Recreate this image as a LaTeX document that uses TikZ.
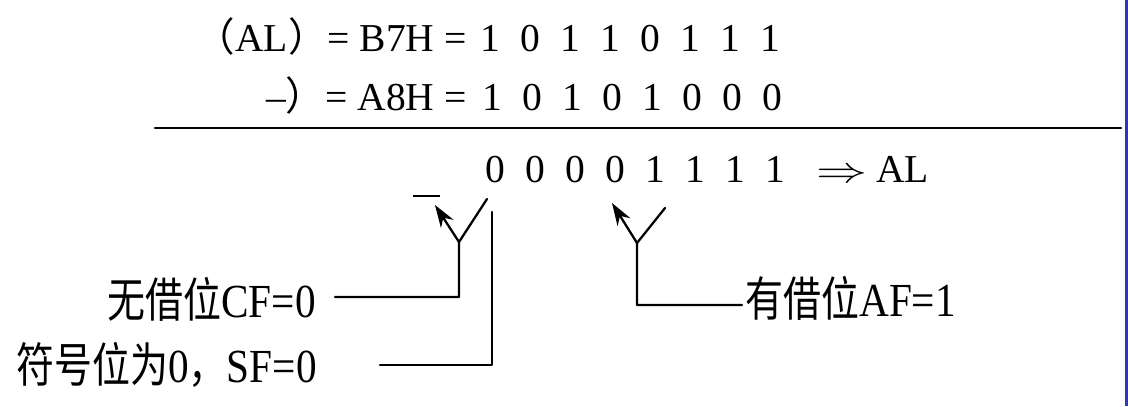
\documentclass[tikz,border=0pt]{standalone}
\usepackage{fontspec}
\setmainfont{Liberation Serif}
\newfontfamily\cjk{Noto Sans CJK SC}
\newfontfamily\cjknarrow[FakeStretch=0.8]{Noto Sans CJK SC}
\newfontfamily\lblfont[FakeStretch=0.87]{Liberation Serif}
\usetikzlibrary{arrows.meta}
\definecolor{barblue}{RGB}{51,51,187}
\newcommand{\bt}[1]{\makebox[0.8cm]{#1}}
\newcommand{\zh}[1]{{\cjknarrow #1}}

\begin{document}
\begin{tikzpicture}[line cap=round,line join=round,>={Stealth[length=0.45cm,width=0.3cm]},x=0.02cm,y=-0.02cm]
\useasboundingbox (0,0) rectangle (1128,406);
\tikzstyle{row}=[inner sep=0pt,font=\fontsize{22.5}{27}\selectfont]
\tikzstyle{lbl}=[inner sep=0pt,font=\fontsize{27}{32}\lblfont]
\tikzstyle{ptr}=[line width=1.3pt]
\fill[barblue] (1125,0) rectangle (1128,406);
% operands
\node[row,anchor=base east] (al) at (467,51) {{\cjk （}AL{\cjk ）}= B7H =};
\node[row,anchor=base west] (albits) at (470,51) {\bt1\bt0\bt1\bt1\bt0\bt1\bt1\bt1};
\node[row,anchor=base east] (sub) at (467,110) {--{\cjk ）}= A8H =};
\node[row,anchor=base west] (subbits) at (472,110) {\bt1\bt0\bt1\bt0\bt1\bt0\bt0\bt0};
\draw[line width=1.4pt] (155,128) -- (1121,128);
% result
\node[row,anchor=base west] (res) at (475,182) {\bt0\bt0\bt0\bt0\bt1\bt1\bt1\bt1};
\node[row,anchor=base west] (toal) at (816,182) {\scalebox{1.4}[1]{$\Rightarrow$}\hspace{5pt}AL};
\draw[line width=1.7pt,line cap=butt] (413,196) -- (440,196);
% flags
\node[lbl,anchor=base east] (cf) at (316,317) {\zh{无借位}CF=0};
\node[lbl,anchor=base east] (sf) at (317,382) {\zh{符号位为}0\zh{，}SF=0};
\node[lbl,anchor=base west] (af) at (745,316) {\zh{有借位}AF=1};
\coordinate (cfj) at (459,242);%borrow out
\coordinate (cft) at (435,205);
\coordinate (cfr) at (487,199);
\coordinate (cfk) at (459,297);
\coordinate (cfs) at (335,297);
\coordinate (sft) at (492,212);%sign
\coordinate (sfk) at (492,365);
\coordinate (sfs) at (380,365);
\coordinate (afj) at (637,243);%bit 3
\coordinate (aft) at (612,203);
\coordinate (afr) at (665,208);
\coordinate (afk) at (637,305);
\coordinate (afs) at (742,305);
\draw[ptr,->] (cfj) -- (cft);
\draw[ptr] (cfr) -- (cfj) -- (cfk) -- (cfs);
\draw[ptr] (sft) -- (sfk) -- (sfs);
\draw[ptr,->] (afj) -- (aft);
\draw[ptr] (afr) -- (afj) -- (afk) -- (afs);
\end{tikzpicture}
\end{document}
